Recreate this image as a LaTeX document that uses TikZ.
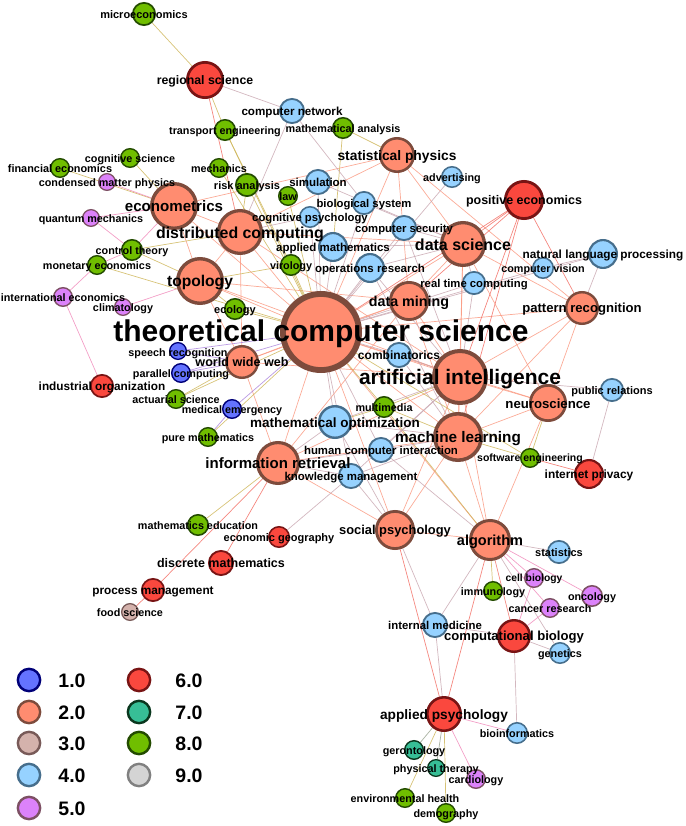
\documentclass[tikz,border=0pt]{standalone}
\usepackage{fontspec}
\setmainfont{Liberation Sans}
\usetikzlibrary{backgrounds}

% class colours: f = fill, b = border
\definecolor{f1}{RGB}{100,115,255}\definecolor{b1}{RGB}{0,0,120}
\definecolor{f2}{RGB}{255,140,112}\definecolor{b2}{RGB}{125,75,60}
\definecolor{f3}{RGB}{212,178,172}\definecolor{b3}{RGB}{120,90,88}
\definecolor{f4}{RGB}{150,210,255}\definecolor{b4}{RGB}{70,110,140}
\definecolor{f5}{RGB}{220,130,250}\definecolor{b5}{RGB}{125,80,100}
\definecolor{f6}{RGB}{250,72,62}\definecolor{b6}{RGB}{120,20,20}
\definecolor{f7}{RGB}{55,190,150}\definecolor{b7}{RGB}{10,55,30}
\definecolor{f8}{RGB}{112,190,0}\definecolor{b8}{RGB}{35,75,0}
\definecolor{f9}{RGB}{212,212,212}\definecolor{b9}{RGB}{128,128,128}
% edge colours
\definecolor{ces}{RGB}{250,150,125}
\definecolor{cer}{RGB}{242,105,95}
\definecolor{ceo}{RGB}{205,180,85}
\definecolor{cem}{RGB}{200,165,175}
\definecolor{cep}{RGB}{240,135,185}
\definecolor{ceb}{RGB}{170,130,220}
\definecolor{cet}{RGB}{150,160,140}

\tikzset{
  nd/.style={circle, inner sep=0pt, minimum size={13*#1/7}, line width={#1/7}},
  cls/.style={draw=b#1, fill=f#1},
  lb/.style={font=\fontsize{#1}{#1}\selectfont\bfseries, inner sep=0pt,
    anchor=base, yshift={-0.38*#1}},
  ed/.style={line width=0.7pt, draw opacity=0.8},
  es/.style={ed, draw=ces},
  er/.style={ed, draw=cer},
  eo/.style={ed, draw=ceo},
  em/.style={ed, draw=cem},
  ep/.style={ed, draw=cep},
  eb/.style={ed, draw=ceb},
  et/.style={ed, draw=cet}
}

\begin{document}
\begin{tikzpicture}[x=1pt, y=-1pt]
\useasboundingbox (0,0) rectangle (685,826);

% class 1.0
\node[nd=9, cls=1] (speech) at (178,351) {};
\node[nd=10, cls=1] (parcomp) at (181,373) {};
\node[nd=10, cls=1] (medem) at (232,409) {};
% class 2.0
\node[nd=41, cls=2] (tcs) at (321,332) {};
\node[nd=28, cls=2] (ai) at (460,377) {};
\node[nd=25, cls=2] (ml) at (458,437) {};
\node[nd=23, cls=2] (ds) at (463,244) {};
\node[nd=20, cls=2] (dm) at (409,301) {};
\node[nd=17, cls=2] (pr) at (582,308) {};
\node[nd=19, cls=2] (neuro) at (548,403) {};
\node[nd=18, cls=2] (statphys) at (397,155) {};
\node[nd=24, cls=2] (econom) at (174,206) {};
\node[nd=23, cls=2] (distcomp) at (240,232) {};
\node[nd=24, cls=2] (topo) at (200,281) {};
\node[nd=17, cls=2] (www) at (242,362) {};
\node[nd=22, cls=2] (ir) at (278,463) {};
\node[nd=20, cls=2] (socpsy) at (395,530) {};
\node[nd=21, cls=2] (algo) at (490,540) {};
% class 3.0
\node[nd=9, cls=3] (food) at (130,612) {};
% class 4.0
\node[nd=15, cls=4] (nlp) at (603,254) {};
\node[nd=11, cls=4] (cv) at (543,268) {};
\node[nd=12, cls=4] (rtc) at (474,283) {};
\node[nd=13, cls=4] (compsec) at (404,228) {};
\node[nd=15, cls=4] (opsres) at (370,268) {};
\node[nd=13, cls=4] (combi) at (399,355) {};
\node[nd=15, cls=4] (appmath) at (333,247) {};
\node[nd=11, cls=4] (cogpsy) at (310,217) {};
\node[nd=12, cls=4] (biosys) at (364,203) {};
\node[nd=13, cls=4] (simul) at (318,182) {};
\node[nd=13, cls=4] (compnet) at (292,111) {};
\node[nd=11, cls=4] (advert) at (452,177) {};
\node[nd=17, cls=4] (mathopt) at (335,422) {};
\node[nd=13, cls=4] (hci) at (381,450) {};
\node[nd=13, cls=4] (km) at (351,476) {};
\node[nd=12, cls=4] (pubrel) at (612,390) {};
\node[nd=12, cls=4] (stats) at (559,552) {};
\node[nd=13, cls=4] (intmed) at (435,625) {};
\node[nd=11, cls=4] (genet) at (560,653) {};
\node[nd=11, cls=4] (bioinf) at (517,733) {};
% class 5.0
\node[nd=9, cls=5] (condmat) at (107,182) {};
\node[nd=9, cls=5] (quantum) at (91,218) {};
\node[nd=10, cls=5] (inteco) at (63,297) {};
\node[nd=9, cls=5] (climat) at (123,307) {};
\node[nd=10, cls=5] (cellbio) at (534,578) {};
\node[nd=11, cls=5] (oncol) at (592,596) {};
\node[nd=10, cls=5] (cancer) at (550,608) {};
\node[nd=10, cls=5] (cardio) at (476,779) {};
% class 6.0
\node[nd=19, cls=6] (regsci) at (205,80) {};
\node[nd=20, cls=6] (posecon) at (524,200) {};
\node[nd=12, cls=6] (indorg) at (102,386) {};
\node[nd=15, cls=6] (privacy) at (589,474) {};
\node[nd=17, cls=6] (compbio) at (514,636) {};
\node[nd=18, cls=6] (applpsy) at (444,714) {};
\node[nd=11, cls=6] (econgeo) at (279,537) {};
\node[nd=13, cls=6] (discmath) at (221,563) {};
\node[nd=12, cls=6] (procman) at (153,590) {};
% class 7.0
\node[nd=10, cls=7] (geront) at (414,750) {};
\node[nd=9, cls=7] (phyther) at (436,768) {};
% class 8.0
\node[nd=12, cls=8] (micro) at (144,14) {};
\node[nd=10, cls=8] (cogsci) at (130,158) {};
\node[nd=10, cls=8] (fineco) at (60,168) {};
\node[nd=11, cls=8] (transp) at (225,130) {};
\node[nd=10, cls=8] (mech) at (219,168) {};
\node[nd=12, cls=8] (risk) at (247,185) {};
\node[nd=10, cls=8] (law) at (288,196) {};
\node[nd=11, cls=8] (mathan) at (343,128) {};
\node[nd=11, cls=8] (control) at (132,250) {};
\node[nd=10, cls=8] (moneco) at (97,265) {};
\node[nd=11, cls=8] (ecol) at (235,309) {};
\node[nd=11, cls=8] (viro) at (291,265) {};
\node[nd=10, cls=8] (actuar) at (176,399) {};
\node[nd=10, cls=8] (puremath) at (208,437) {};
\node[nd=11, cls=8] (multimedia) at (384,407) {};
\node[nd=10, cls=8] (sweng) at (530,458) {};
\node[nd=10, cls=8] (immuno) at (493,591) {};
\node[nd=11, cls=8] (mathedu) at (198,525) {};
\node[nd=10, cls=8] (envhealth) at (405,798) {};
\node[nd=10, cls=8] (demog) at (446,813) {};

% connectors
\begin{scope}[on background layer]
\foreach \a/\b in {tcs/ai, tcs/ml, tcs/ds, tcs/dm, tcs/distcomp, tcs/topo, tcs/econom,
  tcs/www, tcs/ir, tcs/pr, tcs/neuro, tcs/statphys, tcs/socpsy, tcs/algo, ai/ml, ai/ds,
  ai/dm, ai/neuro, ai/pr, ai/algo, ai/socpsy, ai/www, ai/ir, ai/distcomp, ai/topo, ml/ds,
  ml/dm, ml/neuro, ml/algo, ml/socpsy, ml/ir, ml/pr, ds/dm, ds/distcomp, ds/pr,
  ds/statphys, dm/www, dm/statphys, dm/topo, econom/statphys, econom/distcomp,
  econom/topo, distcomp/topo, distcomp/statphys, www/ir, www/distcomp, www/topo,
  ir/socpsy, ir/dm, socpsy/algo, neuro/algo, neuro/pr, pr/statphys, ds/neuro}
  \draw[es] (\a) -- (\b);
\foreach \a/\b in {regsci/distcomp, posecon/tcs, posecon/ai, posecon/ml, posecon/ds,
  posecon/dm, posecon/pr, ir/procman, ir/discmath, procman/food, privacy/sweng,
  socpsy/applpsy, algo/applpsy, algo/compbio}
  \draw[er] (\a) -- (\b);
\foreach \a/\b in {micro/regsci, regsci/transp, transp/tcs, transp/viro, cogsci/econom,
  fineco/econom, mech/tcs, risk/tcs, risk/distcomp, law/tcs, mathan/statphys,
  mathan/appmath, control/distcomp, control/topo, moneco/tcs, ecol/tcs, ecol/topo,
  viro/tcs, viro/topo, actuar/www, actuar/tcs, puremath/tcs, multimedia/tcs,
  multimedia/ai, multimedia/ml, multimedia/mathopt, multimedia/algo, sweng/ml,
  sweng/tcs, sweng/neuro, immuno/algo, mathedu/ir, envhealth/applpsy, demog/applpsy}
  \draw[eo] (\a) -- (\b);
\foreach \a/\b in {compnet/distcomp, compnet/biosys, advert/tcs, simul/tcs, simul/ds,
  cogpsy/tcs, cogpsy/distcomp, biosys/tcs, biosys/ds, compsec/tcs, compsec/ds,
  compsec/ai, appmath/tcs, appmath/ds, opsres/tcs, opsres/ds, opsres/ai, opsres/ml,
  combi/tcs, combi/ai, combi/ml, rtc/tcs, rtc/ai, rtc/ds, cv/tcs, cv/nlp, nlp/pr,
  nlp/tcs, mathopt/tcs, mathopt/ai, mathopt/ml, mathopt/ir, mathopt/socpsy, hci/tcs,
  hci/ml, hci/ai, hci/ir, hci/algo, km/tcs, km/ai, km/ml, km/ir, km/socpsy, km/econgeo,
  pubrel/ai, pubrel/privacy, stats/algo, intmed/algo, intmed/socpsy, intmed/compbio,
  intmed/applpsy, genet/algo, genet/compbio, bioinf/compbio, regsci/compnet}
  \draw[em] (\a) -- (\b);
\foreach \a/\b in {condmat/econom, quantum/control, quantum/econom, inteco/moneco,
  inteco/indorg, moneco/control, control/econom, climat/topo, cellbio/algo, oncol/algo,
  cancer/algo, cancer/compbio, cellbio/compbio, cardio/applpsy, bioinf/applpsy}
  \draw[ep] (\a) -- (\b);
\foreach \a/\b in {speech/tcs, speech/www, parcomp/www, parcomp/tcs, medem/tcs,
  medem/puremath}
  \draw[eb] (\a) -- (\b);
\foreach \a/\b in {geront/applpsy, phyther/applpsy}
  \draw[et] (\a) -- (\b);
\end{scope}

% labels
\node[lb=30, yshift=1.5pt] (tcs-l) at (tcs) {theoretical computer science};
\node[lb=21] (ai-l) at (ai) {artificial intelligence};
\node[lb=15.3] (ml-l) at (ml) {machine learning};
\node[lb=16] (ds-l) at (ds) {data science};
\node[lb=14.3] (dm-l) at (dm) {data mining};
\node[lb=13.1] (pr-l) at (pr) {pattern recognition};
\node[lb=13.2] (neuro-l) at (neuro) {neuroscience};
\node[lb=13.8] (statphys-l) at (statphys) {statistical physics};
\node[lb=15.1] (econom-l) at (econom) {econometrics};
\node[lb=15.9] (distcomp-l) at (distcomp) {distributed computing};
\node[lb=15.6] (topo-l) at (topo) {topology};
\node[lb=12.6] (www-l) at (www) {world wide web};
\node[lb=15] (ir-l) at (ir) {information retrieval};
\node[lb=12.9] (socpsy-l) at (socpsy) {social psychology};
\node[lb=14.5] (algo-l) at (algo) {algorithm};
\node[lb=10.8, yshift=-1.5pt] (speech-l) at (speech) {speech recognition};
\node[lb=10.8] (parcomp-l) at (parcomp) {parallel computing};
\node[lb=10.8] (medem-l) at (medem) {medical emergency};
\node[lb=10.8] (food-l) at (food) {food science};
\node[lb=11.8] (nlp-l) at (nlp) {natural language processing};
\node[lb=10.8] (cv-l) at (cv) {computer vision};
\node[lb=11.3] (rtc-l) at (rtc) {real time computing};
\node[lb=11.3] (compsec-l) at (compsec) {computer security};
\node[lb=11.5] (opsres-l) at (opsres) {operations research};
\node[lb=12] (combi-l) at (combi) {combinatorics};
\node[lb=11.5] (appmath-l) at (appmath) {applied mathematics};
\node[lb=11.3] (cogpsy-l) at (cogpsy) {cognitive psychology};
\node[lb=11.3] (biosys-l) at (biosys) {biological system};
\node[lb=11.5] (simul-l) at (simul) {simulation};
\node[lb=11.65] (compnet-l) at (compnet) {computer network};
\node[lb=10.8] (advert-l) at (advert) {advertising};
\node[lb=13.5] (mathopt-l) at (mathopt) {mathematical optimization};
\node[lb=11.4] (hci-l) at (hci) {human computer interaction};
\node[lb=11.45] (km-l) at (km) {knowledge management};
\node[lb=11] (pubrel-l) at (pubrel) {public relations};
\node[lb=11] (stats-l) at (stats) {statistics};
\node[lb=11.4] (intmed-l) at (intmed) {internal medicine};
\node[lb=10.8] (genet-l) at (genet) {genetics};
\node[lb=10.8] (bioinf-l) at (bioinf) {bioinformatics};
\node[lb=10.8] (condmat-l) at (condmat) {condensed matter physics};
\node[lb=10.8] (quantum-l) at (quantum) {quantum mechanics};
\node[lb=10.8] (inteco-l) at (inteco) {international economics};
\node[lb=10.8] (climat-l) at (climat) {climatology};
\node[lb=10.3] (cellbio-l) at (cellbio) {cell biology};
\node[lb=10.8] (oncol-l) at (oncol) {oncology};
\node[lb=10.8] (cancer-l) at (cancer) {cancer research};
\node[lb=10.8] (cardio-l) at (cardio) {cardiology};
\node[lb=12.3] (regsci-l) at (regsci) {regional science};
\node[lb=12.5] (posecon-l) at (posecon) {positive economics};
\node[lb=11.8] (indorg-l) at (indorg) {industrial organization};
\node[lb=11.9] (privacy-l) at (privacy) {internet privacy};
\node[lb=13.1] (compbio-l) at (compbio) {computational biology};
\node[lb=13.7] (applpsy-l) at (applpsy) {applied psychology};
\node[lb=11] (econgeo-l) at (econgeo) {economic geography};
\node[lb=12.5] (discmath-l) at (discmath) {discrete mathematics};
\node[lb=11.8] (procman-l) at (procman) {process management};
\node[lb=10.8] (geront-l) at (geront) {gerontology};
\node[lb=10.8] (phyther-l) at (phyther) {physical therapy};
\node[lb=11] (micro-l) at (micro) {microeconomics};
\node[lb=10.8] (cogsci-l) at (cogsci) {cognitive science};
\node[lb=10.9] (fineco-l) at (fineco) {financial economics};
\node[lb=10.8] (transp-l) at (transp) {transport engineering};
\node[lb=10.8] (mech-l) at (mech) {mechanics};
\node[lb=11] (risk-l) at (risk) {risk analysis};
\node[lb=10.8] (law-l) at (law) {law};
\node[lb=10.8] (mathan-l) at (mathan) {mathematical analysis};
\node[lb=10.8] (control-l) at (control) {control theory};
\node[lb=10.8] (moneco-l) at (moneco) {monetary economics};
\node[lb=11] (ecol-l) at (ecol) {ecology};
\node[lb=10.8] (viro-l) at (viro) {virology};
\node[lb=10.8] (actuar-l) at (actuar) {actuarial science};
\node[lb=10.8] (puremath-l) at (puremath) {pure mathematics};
\node[lb=10.8] (multimedia-l) at (multimedia) {multimedia};
\node[lb=10.5] (sweng-l) at (sweng) {software engineering};
\node[lb=10.8] (immuno-l) at (immuno) {immunology};
\node[lb=10.8] (mathedu-l) at (mathedu) {mathematics education};
\node[lb=10.8] (envhealth-l) at (envhealth) {environmental health};
\node[lb=10.8] (demog-l) at (demog) {demography};

% legend
\foreach \k/\x/\y/\tx in {1/29/680/72, 2/29/712/72, 3/29/743/72, 4/29/775/72,
  5/29/808/72, 6/139/680/189, 7/139/712/189, 8/139/743/189, 9/139/775/189} {
  \node[nd=12, cls=\k, line width=2.4pt] (leg\k) at (\x,\y) {};
  \node[lb=19.5] (leg\k-l) at (\tx,\y) {\k.0};
}
\end{tikzpicture}
\end{document}
